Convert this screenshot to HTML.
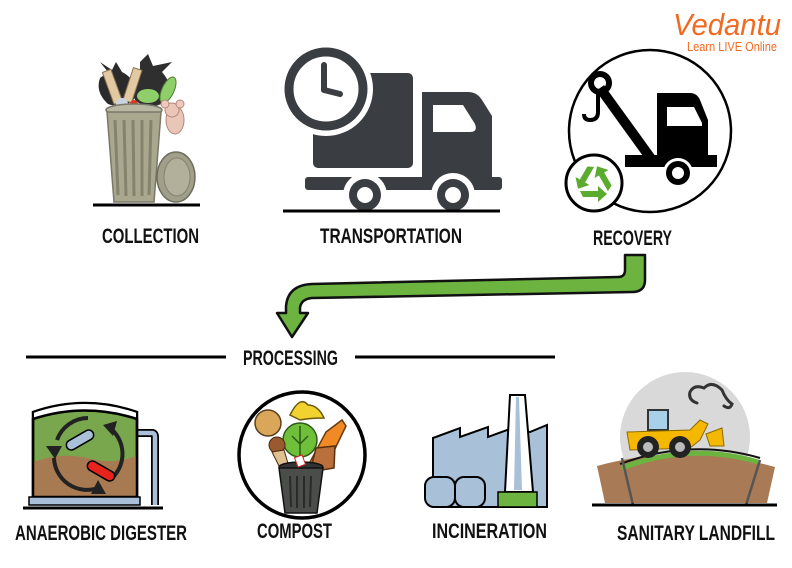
<!DOCTYPE html>
<html><head><meta charset="utf-8"><style>
html,body{margin:0;padding:0;background:#fff;}
svg{display:block;}
.lbl{font-family:"Liberation Sans",sans-serif;font-weight:bold;font-size:21px;fill:#111;}
</style></head><body>
<svg width="792" height="568" viewBox="0 0 792 568" xmlns="http://www.w3.org/2000/svg">
<rect width="792" height="568" fill="#fff"/>

<!-- Vedantu logo -->
<text x="673" y="35" font-family="Liberation Sans, sans-serif" font-size="31" fill="#f26a21" textLength="108" lengthAdjust="spacingAndGlyphs" font-style="italic">Vedantu</text>
<text x="687" y="51" font-family="Liberation Sans, sans-serif" font-size="13" fill="#f26a21" textLength="90" lengthAdjust="spacingAndGlyphs">Learn LIVE Online</text>

<!-- COLLECTION: trash can -->
<g>
  <path d="M100,62 L108,72 L100,78 Q95,92 108,104 Q125,110 135,98 Q138,80 122,72 L116,62 L112,70 Z" fill="#2b2b2b"/>
  <path d="M140,62 L148,54 L153,66 L172,62 L162,72 Q176,88 165,102 Q148,112 135,100 Q130,80 140,72 Z" fill="#2f2f2f"/>
  <rect x="108" y="70" width="9" height="34" fill="#e3c9a2" stroke="#8a7350" transform="rotate(-20 112 87)"/>
  <rect x="128" y="68" width="9" height="34" fill="#e3c9a2" stroke="#8a7350" transform="rotate(18 132 85)"/>
  <ellipse cx="168" cy="90" rx="6" ry="14" fill="#8fcf6a" stroke="#4d7d35" transform="rotate(25 168 90)"/>
  <ellipse cx="148" cy="96" rx="11" ry="7" fill="#8fcf6a"/>
  <circle cx="122" cy="104" r="6" fill="#c9d4e0"/>
  <circle cx="134" cy="104" r="4" fill="#d63b1f"/>
  <ellipse cx="134" cy="110" rx="28" ry="6" fill="#b9b6a2" stroke="#7a7868" stroke-width="1.5"/>
  <path d="M107,112 L161,112 L154,202 L114,202 Z" fill="#aaa78f" stroke="#7a7868" stroke-width="1.5"/>
  <g stroke="#85826d" stroke-width="3">
    <line x1="115" y1="120" x2="118" y2="195"/>
    <line x1="124" y1="120" x2="126" y2="196"/>
    <line x1="133" y1="120" x2="134" y2="196"/>
    <line x1="142" y1="120" x2="142" y2="196"/>
    <line x1="151" y1="120" x2="149" y2="195"/>
  </g>
  <ellipse cx="175" cy="120" rx="9" ry="14" fill="#e9c6b8" stroke="#b08878"/>
  <circle cx="172" cy="110" r="7" fill="#e9c6b8" stroke="#b08878"/>
  <circle cx="165" cy="104" r="4" fill="#f0c8c0" stroke="#b08878"/>
  <circle cx="180" cy="104" r="4" fill="#f0c8c0" stroke="#b08878"/>
  <ellipse cx="176" cy="177" rx="19" ry="25" fill="#a19f89" stroke="#6e6c5c" stroke-width="1.5"/>
  <ellipse cx="177" cy="177" rx="13" ry="19" fill="#b2b09b" stroke="#85826d"/>
  <line x1="93" y1="205" x2="200" y2="205" stroke="#000" stroke-width="3"/>
</g>
<text class="lbl" x="102" y="243" textLength="97" lengthAdjust="spacingAndGlyphs">COLLECTION</text>

<!-- TRANSPORTATION: truck -->
<g fill="#3a3d41">
  <rect x="313" y="73" width="100" height="95" rx="5"/>
  <path d="M422,92 L468,92 Q477,92 482,100 L492,116 L492,177 L422,177 Z"/>
  <path d="M433,105 L463,105 L475,124 Q478,132 470,132 L433,132 Z" fill="#fff"/>
  <rect x="305" y="177" width="197" height="13" rx="3"/>
  <circle cx="326" cy="89" r="47" fill="#fff"/>
  <circle cx="326" cy="89" r="37" fill="#fff" stroke="#3a3d41" stroke-width="9"/>
  <path d="M324,65 L324,90 L340,94" fill="none" stroke="#3a3d41" stroke-width="6" stroke-linecap="round" stroke-linejoin="round"/>
  <circle cx="365" cy="195" r="22" fill="#fff"/>
  <circle cx="365" cy="195" r="16"/>
  <circle cx="365" cy="195" r="8" fill="#fff"/>
  <circle cx="453" cy="195" r="22" fill="#fff"/>
  <circle cx="453" cy="195" r="16"/>
  <circle cx="453" cy="195" r="8" fill="#fff"/>
</g>
<line x1="283" y1="211" x2="500" y2="211" stroke="#000" stroke-width="3"/>
<text class="lbl" x="320" y="243" textLength="142" lengthAdjust="spacingAndGlyphs">TRANSPORTATION</text>

<!-- RECOVERY: tow truck -->
<circle cx="650" cy="131" r="81" fill="#fff" stroke="#000" stroke-width="2.5"/>
<g fill="#000">
  <circle cx="600" cy="83" r="9" fill="none" stroke="#000" stroke-width="6"/>
  <path d="M598,92 L598,112 Q598,120 590,120 Q584,120 584,114" fill="none" stroke="#000" stroke-width="4"/>
  <line x1="600" y1="88" x2="652" y2="160" stroke="#000" stroke-width="10"/>
  <path d="M657,93 L690,93 Q697,93 700,100 L708,120 L708,160 L657,160 Z"/>
  <path d="M667,107 L694,107 L702,123 L702,126 L667,126 Z" fill="#fff"/>
  <rect x="625" y="155" width="92" height="12"/>
  <circle cx="678" cy="173" r="15" fill="#fff"/>
  <circle cx="678" cy="173" r="12"/>
  <circle cx="678" cy="173" r="6" fill="#fff"/>
</g>
<circle cx="594" cy="183" r="28" fill="#fff" stroke="#000" stroke-width="3"/>
<g transform="translate(594,183)" fill="#5aab2e">
  <polygon points="-14,8 4,8 4,3 13,11 4,19 4,14 -11,14"/>
  <polygon points="-14,8 4,8 4,3 13,11 4,19 4,14 -11,14" transform="rotate(120)"/>
  <polygon points="-14,8 4,8 4,3 13,11 4,19 4,14 -11,14" transform="rotate(240)"/>
</g>
<text class="lbl" x="593" y="245" textLength="79" lengthAdjust="spacingAndGlyphs">RECOVERY</text>

<!-- Green arrow -->
<path d="M625,255 L645,255 L645,280 Q645,292 632,292 L312,298 Q301,299 300,308 L300,313 L308,313 L292,337 L277,313 L286,313 L286,306 Q288,285 312,284 L618,277 Q625,277 625,270 Z" fill="#6cb33f" stroke="#111" stroke-width="2.5" stroke-linejoin="round"/>

<!-- PROCESSING -->
<line x1="26" y1="357" x2="226" y2="357" stroke="#000" stroke-width="3"/>
<line x1="355" y1="357" x2="555" y2="357" stroke="#000" stroke-width="3"/>
<text class="lbl" x="243" y="365" textLength="95" lengthAdjust="spacingAndGlyphs">PROCESSING</text>

<!-- ANAEROBIC DIGESTER -->
<g>
  <path d="M137,433 L152,433 Q155,433 155,437 L155,505" fill="none" stroke="#000" stroke-width="8"/>
  <path d="M137,433 L152,433 Q155,433 155,437 L155,505" fill="none" stroke="#a9c0d8" stroke-width="4.5"/>
  <path d="M33,412 Q85,394 137,412 L137,497 L33,497 Z" fill="#78a74e" stroke="#000" stroke-width="2.5"/>
  <path d="M34,462 Q60,452 87,458 Q115,465 136,456 L136,496 L34,496 Z" fill="#a87a52"/>
  <path d="M33,412 Q85,394 137,412 L137,419 Q85,402 33,419 Z" fill="#fff" stroke="#000" stroke-width="2"/>
  <path d="M33,419 Q85,402 137,419 L137,497 L33,497 Z" fill="none" stroke="#000" stroke-width="2.5"/>
  <g fill="none" stroke="#222" stroke-width="4">
    <path d="M110,428 A33,33 0 0 1 112,478"/>
    <path d="M98,488 A33,33 0 0 1 54,458"/>
    <path d="M57,440 A33,33 0 0 1 88,418"/>
  </g>
  <g fill="#222">
    <polygon points="103,425 117,421 113,436"/>
    <polygon points="98,480 106,494 91,494"/>
    <polygon points="46,446 62,446 55,459"/>
  </g>
  <rect x="65" y="435" width="30" height="10" rx="5" fill="#a9c0d8" stroke="#000" stroke-width="1.5" transform="rotate(-30 80 440)"/>
  <rect x="86" y="466" width="30" height="10" rx="5" fill="#e8231b" stroke="#000" stroke-width="1.5" transform="rotate(30 101 471)"/>
  <rect x="29" y="497" width="111" height="8" fill="#a9c0d8" stroke="#000" stroke-width="1.5"/>
  <line x1="23" y1="508" x2="163" y2="508" stroke="#000" stroke-width="3"/>
</g>
<text class="lbl" x="15" y="540" textLength="172" lengthAdjust="spacingAndGlyphs">ANAEROBIC DIGESTER</text>

<!-- COMPOST -->
<g>
  <circle cx="302" cy="455" r="63" fill="#fff" stroke="#000" stroke-width="3.5"/>
  <circle cx="268" cy="423" r="13" fill="#d9a65a" stroke="#5a4020" stroke-width="1.5"/>
  <path d="M290,415 Q300,395 308,405 Q318,405 324,418 Q310,418 300,420 Z" fill="#f2d22e" stroke="#6a5a10" stroke-width="1.5"/>
  <path d="M326,432 L342,420 L346,426 L332,455 L320,470 L310,462 Z" fill="#f08a24" stroke="#6a3a10" stroke-width="1.5"/>
  <path d="M316,448 L335,446 L334,468 L310,472 Z" fill="#b9703a" stroke="#5a3010" stroke-width="1.5"/>
  <circle cx="300" cy="440" r="17" fill="#6fbf3b" stroke="#2d5a18" stroke-width="1.5"/>
  <path d="M300,426 L300,456 M292,436 L300,444 L308,436" stroke="#2d5a18" stroke-width="1.5" fill="none"/>
  <circle cx="277" cy="445" r="8" fill="#9a5a30" stroke="#4a2a10"/>
  <path d="M272,452 L284,450 L290,470 L282,472 Z" fill="#e0c090" stroke="#4a2a10"/>
  <ellipse cx="301" cy="467" rx="22" ry="5" fill="#333" stroke="#111" stroke-width="1.5"/>
  <path d="M279,468 L323,468 L317,513 L285,513 Z" fill="#4a4d4a" stroke="#111" stroke-width="1.5"/>
  <g stroke="#2a2a2a" stroke-width="2">
    <line x1="290" y1="476" x2="291" y2="507"/>
    <line x1="297" y1="476" x2="297" y2="508"/>
    <line x1="304" y1="476" x2="304" y2="508"/>
    <line x1="311" y1="476" x2="310" y2="507"/>
  </g>
  <rect x="296" y="456" width="8" height="10" fill="#fff" stroke="#c22" transform="rotate(-20 300 461)"/>
</g>
<text class="lbl" x="257" y="538" textLength="75" lengthAdjust="spacingAndGlyphs">COMPOST</text>

<!-- INCINERATION -->
<g>
  <path d="M433,507 L433,438 L460,428 L460,437 L488,427 L488,437 L510,429 L530,432 L547,425 L547,507 Z" fill="#a8c0d8" stroke="#000" stroke-width="2"/>
  <polygon points="510,395 525,395 533,492 505,492" fill="#fff" stroke="#000" stroke-width="2"/>
  <polygon points="516,397 519,397 522,490 514,490" fill="#a8c0d8"/>
  <rect x="498" y="492" width="39" height="15" fill="#6cb33f" stroke="#000" stroke-width="1.5"/>
  <rect x="425" y="477" width="30" height="30" rx="9" fill="#a8c0d8" stroke="#000" stroke-width="2"/>
  <rect x="455" y="477" width="30" height="30" rx="9" fill="#a8c0d8" stroke="#000" stroke-width="2"/>
</g>
<text class="lbl" x="432" y="538" textLength="115" lengthAdjust="spacingAndGlyphs">INCINERATION</text>

<!-- SANITARY LANDFILL -->
<g>
  <circle cx="685" cy="437" r="65" fill="#d9d9d9"/>
  <path d="M697,403 Q688,400 690,392 Q694,384 704,388 Q712,380 722,390 Q726,400 732,404 Q730,410 724,406" fill="none" stroke="#333" stroke-width="3" stroke-linecap="round"/>
  <path d="M597,466 Q685,442 775,467 L767,503 L605,503 Z" fill="#a87a55"/>
  <path d="M622,468 Q690,442 758,462" fill="none" stroke="#6cb33f" stroke-width="5"/>
  <path d="M620,464 Q690,438 760,458" fill="none" stroke="#111" stroke-width="2"/>
  <line x1="622" y1="458" x2="633" y2="505" stroke="#555" stroke-width="2.5"/>
  <line x1="760" y1="460" x2="746" y2="505" stroke="#555" stroke-width="2.5"/>
  <rect x="648" y="410" width="20" height="20" fill="#a8d0e8" stroke="#333" stroke-width="2"/>
  <path d="M627,432 L690,430 L700,420 L708,424 L700,440 L690,448 L630,450 Z" fill="#f5b800" stroke="#8a6a00" stroke-width="1"/>
  <path d="M706,434 L722,428 L724,446 L710,446 Z" fill="#f5b800" stroke="#8a6a00"/>
  <circle cx="648" cy="447" r="11" fill="#222"/>
  <circle cx="648" cy="447" r="5" fill="#bbb"/>
  <circle cx="680" cy="447" r="11" fill="#222"/>
  <circle cx="680" cy="447" r="5" fill="#bbb"/>
  <line x1="592" y1="505" x2="777" y2="505" stroke="#000" stroke-width="3"/>
</g>
<text class="lbl" x="617" y="540" textLength="158" lengthAdjust="spacingAndGlyphs">SANITARY LANDFILL</text>
</svg>
</body></html>
